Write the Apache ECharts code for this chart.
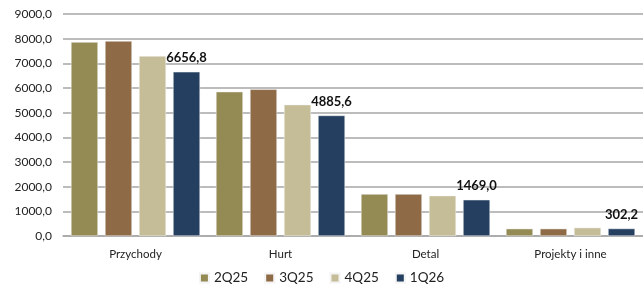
<!DOCTYPE html>
<html>
<head>
<meta charset="utf-8">
<script src="https://cdn.jsdelivr.net/npm/echarts@6/dist/echarts.min.js"></script>
<style>
  html, body { margin: 0; padding: 0; background: #fff; }
  #chart { width: 643px; height: 295px; }
</style>
</head>
<body>
<div id="chart"></div>
<script>
const categories = ['Przychody', 'Hurt', 'Detal', 'Projekty i inne'];
const seriesNames = ['2Q25', '3Q25', '4Q25', '1Q26'];
const q2_25 = [7865, 5850, 1703, 296];
const q3_25 = [7905, 5947, 1700, 296];
const q4_25 = [7296, 5323, 1634, 337];
const q1_26 = [6656.8, 4885.6, 1469.0, 302.2];
const colors = ['#948A54', '#8E6A46', '#C4BD97', '#243F60'];

const fmt = v => v.toFixed(1).replace('.', ',');
const font = 'Lato, "Liberation Sans", sans-serif';

const chart = echarts.init(document.getElementById('chart'));
const allData = [q2_25, q3_25, q4_25, q1_26];

chart.setOption({
  animation: false,
  textStyle: { fontFamily: font },
  grid: { left: 63, right: 0, top: 14, bottom: 59 },
  legend: {
    bottom: 5,
    left: 'center',
    itemWidth: 9,
    itemHeight: 9,
    itemGap: 16,
    icon: 'rect',
    textStyle: { fontSize: 13.5, color: '#222', fontFamily: font },
    data: seriesNames
  },
  xAxis: {
    type: 'category',
    data: categories,
    axisTick: { show: false },
    axisLine: { lineStyle: { color: '#a6a6a6', width: 1.5 } },
    axisLabel: { fontSize: 11.5, color: '#222', margin: 12 }
  },
  yAxis: {
    type: 'value',
    min: 0,
    max: 9000,
    interval: 1000,
    axisLabel: { fontSize: 12, color: '#222', margin: 11, formatter: v => fmt(v) },
    splitLine: { lineStyle: { color: '#a6a6a6', width: 1.5 } },
    axisLine: { show: false },
    axisTick: { show: false }
  },
  series: seriesNames.map((name, i) => ({
    name: name,
    type: 'bar',
    data: allData[i],
    barWidth: 27,
    barGap: '26%',
    itemStyle: { color: colors[i], borderColor: '#f4f4f4', borderWidth: 0.5 },
    label: i === 3 ? {
      show: true,
      position: 'top',
      distance: 7,
      fontSize: 13,
      fontWeight: 'bold',
      color: '#111',
      formatter: p => fmt(p.value)
    } : { show: false }
  }))
});
</script>
</body>
</html>
